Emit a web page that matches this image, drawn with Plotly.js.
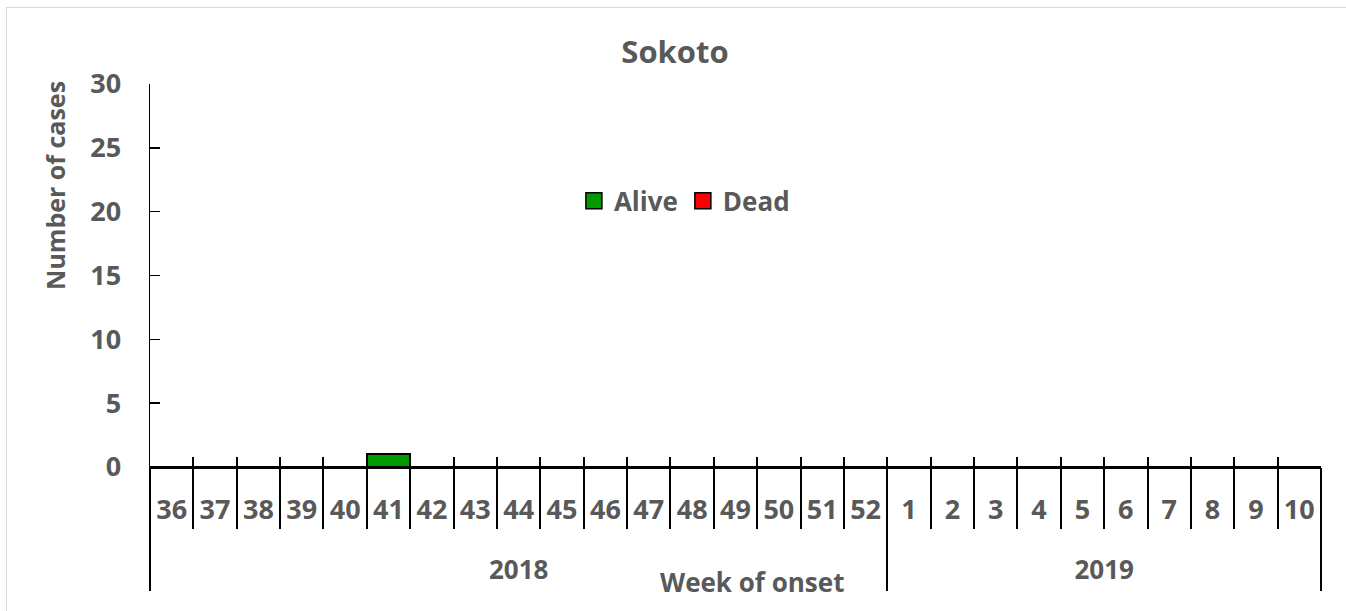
<!DOCTYPE html>
<html>
<head>
<meta charset="utf-8">
<script src="https://cdn.plot.ly/plotly-3.0.1.min.js"></script>
<style>
  html, body { margin: 0; padding: 0; background: #fff; }
  #chart { width: 1346px; height: 611px; }
  #frame { position: absolute; left: 6px; top: 7px; width: 1400px; height: 700px;
           border: 1.5px solid #d9d9d9; pointer-events: none; }
</style>
</head>
<body>
<div id="chart"></div>
<div id="frame"></div>
<script>
// ---- data ----
const chartTitle = 'Sokoto';
const years = ['2018', '2019'];
const weeks2018 = ['36','37','38','39','40','41','42','43','44','45','46','47','48','49','50','51','52'];
const weeks2019 = ['1','2','3','4','5','6','7','8','9','10'];
const alive2018 = [0,0,0,0,0,1,0,0,0,0,0,0,0,0,0,0,0];
const alive2019 = [0,0,0,0,0,0,0,0,0,0];
const dead2018  = [0,0,0,0,0,0,0,0,0,0,0,0,0,0,0,0,0];
const dead2019  = [0,0,0,0,0,0,0,0,0,0];
const seriesNames = ['Alive', 'Dead'];
const seriesColors = ['#009900', '#ff0000'];
const yTitle = 'Number of cases';
const xTitle = 'Week of onset';

// ---- derived ----
const weeks = weeks2018.concat(weeks2019);
const alive = alive2018.concat(alive2019);
const dead = dead2018.concat(dead2019);
const n = weeks.length;
const counts = [weeks2018.length, weeks2019.length];
const bounds = [-0.5];
let acc = -0.5;
counts.forEach(c => { acc += c; bounds.push(acc); });
const yearCenters = counts.map((c, i) => bounds[i] + c / 2);

const txt = '#595959';
const fam = '"Open Sans", sans-serif';
const F = (s) => ({ family: fam, size: s, color: txt, weight: 'bold' });

const traces = [
  { type: 'bar', x: weeks, y: alive, name: seriesNames[0], showlegend: false,
    marker: { color: seriesColors[0], line: { color: '#000', width: 2 } } },
  { type: 'bar', x: weeks, y: dead, name: seriesNames[1], showlegend: false,
    marker: { color: seriesColors[1], line: { color: '#000', width: 2 } } }
];
// legend entries (square keys like the original)
const legendTraces = seriesNames.map((nm, i) => ({
  type: 'scatter', mode: 'markers', x: [null], y: [null], name: nm, showlegend: true,
  marker: { symbol: 'square', size: 16, color: seriesColors[i], line: { color: '#000', width: 1.5 } }
}));

const xr = [-0.5, n - 0.5];
const layout = {
  width: 1346, height: 611,
  margin: { l: 150, r: 25, t: 84, b: 144 },
  paper_bgcolor: '#fff', plot_bgcolor: '#fff',
  barmode: 'stack', bargap: 0,
  showlegend: true,
  title: { text: chartTitle, font: F(31), x: 0.5015, xref: 'container', y: 0.915, yanchor: 'middle' },
  legend: { orientation: 'h', x: 0.362, y: 0.695, xanchor: 'left', yanchor: 'middle',
            traceorder: 'normal', font: F(26), bgcolor: 'rgba(0,0,0,0)', itemwidth: 30 },
  xaxis: { type: 'category', range: xr, showgrid: false, zeroline: false,
           showline: true, linecolor: '#000', linewidth: 1.5,
           ticks: '', tickfont: F(27), ticklabelstandoff: 18, fixedrange: true },
  xaxis2: { type: 'category', overlaying: 'x', anchor: 'y', range: xr, matches: 'x',
            tickson: 'boundaries', ticks: 'outside', ticklen: 61, tickwidth: 2, tickcolor: '#000',
            showticklabels: false, showgrid: false, zeroline: false, showline: false },
  xaxis3: { type: 'category', overlaying: 'x', anchor: 'y', range: xr, matches: 'x',
            tickson: 'boundaries', ticks: 'inside', ticklen: 10, tickwidth: 2, tickcolor: '#000',
            showticklabels: false, showgrid: false, zeroline: false, showline: false },
  xaxis4: { type: 'linear', overlaying: 'x', anchor: 'y', range: xr,
            tickmode: 'array', tickvals: bounds, ticks: 'outside', ticklen: 123, tickwidth: 2, tickcolor: '#000',
            showticklabels: false, showgrid: false, zeroline: false, showline: false },
  xaxis5: { type: 'linear', overlaying: 'x', anchor: 'y', range: xr,
            tickmode: 'array', tickvals: yearCenters, ticktext: years, ticks: '',
            tickfont: F(26), ticklabelstandoff: 85,
            showgrid: false, zeroline: false, showline: false },
  yaxis: { range: [0, 30], dtick: 5, tick0: 0, showgrid: false, zeroline: false,
           showline: true, linecolor: '#000', linewidth: 1.5,
           ticks: 'inside', ticklen: 10, tickwidth: 1.5, tickcolor: '#000',
           tickfont: F(27), ticklabelstandoff: 22, fixedrange: true },
  annotations: [
    { text: yTitle, textangle: -90, xref: 'paper', yref: 'paper',
      x: -0.0811, y: 0.734, xanchor: 'center', yanchor: 'middle', showarrow: false, font: F(25) },
    { text: xTitle, xref: 'paper', yref: 'paper',
      x: (752 - 150) / 1171, y: (467 - 582) / 383, xanchor: 'center', yanchor: 'middle',
      showarrow: false, font: F(26) }
  ]
};

// dummy traces to attach overlay axes
const axTraces = ['x2','x3','x4','x5'].map(ax => ({
  type: 'scatter', mode: 'none', x: [], y: [], xaxis: ax, yaxis: 'y', showlegend: false, hoverinfo: 'skip'
}));
axTraces[0].x = weeks; axTraces[0].y = weeks.map(() => null);
axTraces[1].x = weeks; axTraces[1].y = weeks.map(() => null);

Plotly.newPlot('chart', traces.concat(legendTraces, axTraces), layout, { displayModeBar: false, staticPlot: true });
</script>
</body>
</html>
